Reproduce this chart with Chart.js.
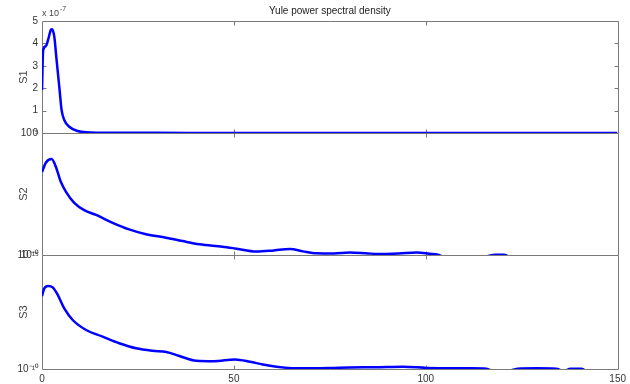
<!DOCTYPE html>
<html>
<head>
<meta charset="utf-8">
<title>Yule power spectral density</title>
<script src="https://cdn.jsdelivr.net/npm/chart.js@4.4.1/dist/chart.umd.min.js"></script>
<style>
  body { margin: 0; background: #fff; }
  canvas { display: block; }
</style>
</head>
<body>
<canvas id="chart" width="630" height="384"></canvas>
<script>
// frequency axis
const xTicks = [0, 50, 100, 150];

// S1 (linear axis, values x 1e-7)
const freq1 = [0, 0.3, 1.0, 1.7, 2.3, 2.6, 3.2, 3.8, 4.5, 5.1, 5.8, 7.1, 9.3, 11.5, 15, 20, 30, 50, 80, 110, 150];
const s1 = [1.92e-7, 3.7e-7, 3.88e-7, 4.23e-7, 4.6e-7, 4.63e-7, 4.3e-7, 3.26e-7, 2.07e-7, 1.03e-7, 0.58e-7,
  0.28e-7, 0.09e-7, 0.03e-7, 0.015e-7, 0.01e-7, 0.006e-7, 0.004e-7, 0.003e-7, 0.002e-7, 0.002e-7];
const s1Ticks = [0, 1e-7, 2e-7, 3e-7, 4e-7, 5e-7];
const s1TickLabels = ['0', '1', '2', '3', '4', '5'];

// S2 (log axis)
const freq2 = [0, 1.0, 2.5, 3.6, 4.9, 6.25, 8.4, 11, 14.1, 18.4, 22.7, 27.1, 32.3, 36.6, 41, 47, 50.3, 55.9, 60, 64.6,
  68, 71.5, 76, 80.2, 85, 88.9, 93, 97.6, 101, 103.2, 105, 110, 115, 118.2, 120.3, 122, 130, 140, 150];
const s2 = [2.51e-7, 6.03e-7, 8.51e-7, 4.17e-7, 1.0e-7, 3.89e-8, 1.38e-8, 6.92e-9, 4.37e-9, 2.09e-9,
  1.12e-9, 7.08e-10, 5.13e-10, 3.72e-10, 2.75e-10, 2.19e-10, 1.86e-10, 1.38e-10, 1.51e-10, 1.78e-10,
  1.41e-10, 1.17e-10, 1.15e-10, 1.26e-10, 1.15e-10, 1.10e-10, 1.15e-10, 1.26e-10, 1.12e-10, 1.02e-10,
  7.9e-11, 7.1e-11, 8.3e-11, 1.035e-10, 1.035e-10, 8.3e-11, 6.3e-11, 6.3e-11, 5.6e-11];

// S3 (log axis)
const freq3 = [0, 0.6, 1.6, 2.8, 4.1, 5.8, 8, 11.5, 15.8, 20.1, 24.5, 28.8, 32.4, 35.8, 40.2, 44.8, 50.3, 54.2, 57.5, 61.1,
  66.3, 71.5, 76, 80.2, 87, 94.1, 100.2, 106.3, 112, 115.8, 118, 121, 123.9, 129, 134, 136, 137.7, 140.5, 142, 146, 150];
const s3 = [1.58e-7, 3.47e-7, 4.37e-7, 3.80e-7, 1.78e-7, 4.57e-8, 1.41e-8, 5.13e-9, 2.63e-9, 1.35e-9,
  8.13e-10, 6.31e-10, 5.62e-10, 3.72e-10, 2.29e-10, 2.19e-10, 2.63e-10, 2.09e-10, 1.58e-10, 1.26e-10,
  1.07e-10, 1.07e-10, 1.12e-10, 1.17e-10, 1.20e-10, 1.26e-10, 1.12e-10, 1.07e-10, 1.07e-10, 1.02e-10,
  7.9e-11, 7.9e-11, 1.02e-10, 1.07e-10, 1.02e-10, 8.3e-11, 1.02e-10, 1.02e-10, 7.9e-11, 6.3e-11, 6.3e-11];

const logTicks = [1e-10, 1e-5];
const logTickLabels = ['10⁻¹⁰', '10⁻⁵'];

const FONT = '"Liberation Sans", Arial, sans-serif';
const AXIS_GREY = '#7a7a7a';
const panels = ['y1', 'y2', 'y3'];

Chart.defaults.font.family = FONT;
Chart.defaults.font.size = 10;
Chart.defaults.color = '#333';

const points = (xs, ys) => xs.map((x, i) => ({ x: x, y: ys[i] }));

function lineSet(xs, ys, axis) {
  return {
    data: points(xs, ys),
    yAxisID: axis,
    borderColor: '#0000ff',
    borderWidth: 2.5,
    pointRadius: 0,
    cubicInterpolationMode: 'monotone',
    fill: false
  };
}

function panelAxis(title, weight, extra) {
  return Object.assign({
    stack: 'panels',
    stackWeight: weight,
    position: 'left',
    grid: { display: false, drawTicks: false },
    border: { display: false },
    title: { display: true, text: title, font: { size: 11 }, color: '#444', padding: { top: 17, bottom: 0 } },
    afterFit: (scale) => { scale.width = 42; }
  }, extra);
}

// frame, inner ticks and clipping of each stacked panel
const panelFrame = {
  id: 'panelFrame',
  beforeDatasetsDraw(chart) {
    const { ctx, chartArea: a, scales } = chart;
    const xs = scales.x;
    ctx.save();
    ctx.strokeStyle = AXIS_GREY;
    ctx.lineWidth = 1;
    panels.forEach(id => {
      const s = scales[id];
      const top = Math.round(s.top) + 0.5;
      const bottom = Math.round(s.bottom) + 0.5;
      const left = Math.round(a.left) + 0.5;
      const right = Math.round(a.right) + 0.5;
      ctx.beginPath();
      ctx.rect(left, top, right - left, bottom - top);
      xTicks.slice(1, -1).forEach(v => {
        const px = Math.round(xs.getPixelForValue(v)) + 0.5;
        ctx.moveTo(px, top); ctx.lineTo(px, top + 4);
        ctx.moveTo(px, bottom); ctx.lineTo(px, bottom - 4);
      });
      s.ticks.forEach(t => {
        if (t.value <= s.min || t.value >= s.max) return;
        const py = Math.round(s.getPixelForValue(t.value)) + 0.5;
        ctx.moveTo(left, py); ctx.lineTo(left + 4, py);
        ctx.moveTo(right, py); ctx.lineTo(right - 4, py);
      });
      ctx.stroke();
    });
    ctx.restore();
  },
  beforeDatasetDraw(chart, args) {
    const s = chart.scales[chart.data.datasets[args.index].yAxisID];
    const a = chart.chartArea;
    chart.ctx.save();
    chart.ctx.beginPath();
    chart.ctx.rect(a.left, s.top, a.right - a.left, s.bottom - s.top);
    chart.ctx.clip();
  },
  afterDatasetDraw(chart) {
    chart.ctx.restore();
  },
  afterDraw(chart) {
    const { ctx, chartArea: a } = chart;
    ctx.save();
    ctx.fillStyle = '#444';
    ctx.textAlign = 'left';
    ctx.textBaseline = 'alphabetic';
    ctx.font = '9px ' + FONT;
    ctx.fillText('x 10', a.left, 16);
    const w = ctx.measureText('x 10').width;
    ctx.font = '7px ' + FONT;
    ctx.fillText('-7', a.left + w + 1, 11);
    ctx.restore();
  }
};

new Chart(document.getElementById('chart'), {
  type: 'line',
  data: {
    datasets: [
      lineSet(freq1, s1, 'y1'),
      lineSet(freq2, s2, 'y2'),
      lineSet(freq3, s3, 'y3')
    ]
  },
  options: {
    responsive: false,
    animation: false,
    devicePixelRatio: 1,
    layout: { padding: { left: 0, right: 12, top: 0, bottom: 0 } },
    plugins: {
      legend: { display: false },
      tooltip: { enabled: false },
      title: {
        display: true,
        text: 'Yule power spectral density',
        fullSize: false,
        color: '#222',
        font: { size: 10, weight: 'normal' },
        padding: { top: 5, bottom: 4 }
      }
    },
    scales: {
      x: {
        type: 'linear',
        min: 0,
        max: 150,
        grid: { display: false, drawTicks: false },
        border: { display: false },
        ticks: { stepSize: 50, padding: 4, maxRotation: 0 },
        afterBuildTicks: (scale) => { scale.ticks = xTicks.map(v => ({ value: v })); },
        afterFit: (scale) => { scale.height = 15; }
      },
      // stacked panels are placed top-down in reverse order of definition
      y3: panelAxis('S3', 114, {
        type: 'logarithmic', min: 1e-10, max: 1e-5,
        ticks: { autoSkip: false, padding: 3, callback: (v, i) => logTickLabels[i] },
        afterBuildTicks: (scale) => { scale.ticks = logTicks.map(v => ({ value: v })); }
      }),
      y2: panelAxis('S2', 122, {
        type: 'logarithmic', min: 1e-10, max: 1e-5,
        ticks: { autoSkip: false, padding: 3, callback: (v, i) => logTickLabels[i] },
        afterBuildTicks: (scale) => { scale.ticks = logTicks.map(v => ({ value: v })); }
      }),
      y1: panelAxis('S1', 112, {
        type: 'linear', min: 0, max: 5e-7,
        ticks: { autoSkip: false, padding: 4, callback: (v, i) => s1TickLabels[i] },
        afterBuildTicks: (scale) => { scale.ticks = s1Ticks.map(v => ({ value: v })); }
      })
    }
  },
  plugins: [panelFrame]
});
</script>
</body>
</html>
